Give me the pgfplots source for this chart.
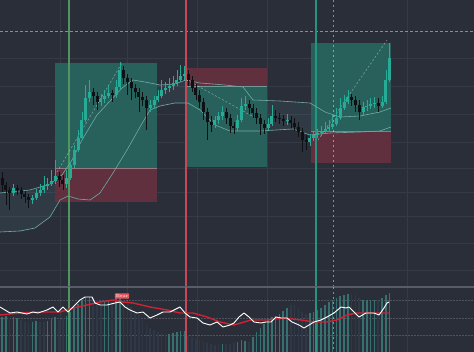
\documentclass[border=0pt]{standalone}
\usepackage{pgfplots}
\pgfplotsset{compat=1.18}
\usepackage{pgfplotstable}
\definecolor{bg}{RGB}{42,46,57}
\definecolor{gridc}{RGB}{54,58,70}
\definecolor{boxg}{RGB}{40,96,91}
\definecolor{boxr}{RGB}{96,48,63}
\definecolor{up}{RGB}{38,172,150}
\definecolor{dn}{RGB}{14,16,20}
\definecolor{band}{RGB}{110,170,165}
\definecolor{vgreen}{RGB}{80,150,95}
\definecolor{vred}{RGB}{200,70,85}
\definecolor{vteal}{RGB}{35,150,130}
\definecolor{histb}{RGB}{55,112,112}
\definecolor{histd}{RGB}{46,56,70}
\definecolor{sigred}{RGB}{205,35,50}
\definecolor{bearred}{RGB}{235,85,95}
\definecolor{sep}{RGB}{88,92,104}

\pgfplotstableread{
x o h l c
2 178 172 192 185
5.8 185 182 205 190
9.6 190 187 210 193
13.4 193 184 196 188
17.2 188 185 195 190
21 190 187 199 194
24.8 194 191 203 197
28.6 197 194 208 200
32.4 200 195 204 198
36.2 198 189 200 193
40 193 184 196 190
43.8 190 176 193 186
47.6 186 178 190 184
51.4 184 170 186 181
55.2 181 160 184 176
59 176 172 187 180
62.8 180 175 190 184
66.6 184 170 188 178
70.4 178 162 180 165
74.2 165 145 168 150
78 150 130 152 138
81.8 138 112 140 120
85.6 120 85 122 98
89.4 98 80 102 92
93.2 92 88 105 96
97 96 92 110 102
100.8 102 94 106 99
104.6 99 90 103 96
108.4 96 86 98 93
112.2 93 90 102 95
116 95 80 98 87
119.8 87 62 90 70
123.6 70 66 84 78
127.4 78 74 95 82
131.2 82 78 100 88
135 88 84 98 92
138.8 92 88 112 97
142.6 97 92 106 100
146.4 100 96 130 108
150.2 108 100 112 105
154 105 96 108 100
157.8 100 90 102 96
161.6 96 80 98 90
165.4 90 82 94 88
169.2 88 78 92 86
173 86 76 90 83
176.8 83 70 86 80
180.6 80 65 82 76
184.4 76 66 80 74
188.2 74 70 86 80
192 80 76 92 88
195.8 88 84 100 95
199.6 95 90 108 102
203.4 102 98 120 112
207.2 112 108 140 122
211 122 116 132 125
214.8 125 116 128 120
218.6 120 112 124 116
222.4 116 106 120 112
226.2 112 108 124 118
230 118 114 133 126
233.8 126 122 134 128
237.6 128 115 131 120
241.4 120 98 122 106
245.2 106 96 110 104
249 104 100 114 108
252.8 108 104 118 113
256.6 113 108 124 118
260.4 118 114 135 124
264.2 124 120 134 128
268 128 118 130 124
271.8 124 105 126 116
275.6 116 110 122 118
279.4 118 113 124 119
283.2 119 115 126 121
287 121 114 125 120
290.8 120 116 128 123
294.6 123 118 131 127
298.4 127 122 137 132
302.2 132 128 152 140
306 140 135 150 142
309.8 142 134 146 138
313.6 138 131 141 135
317.4 135 129 138 133
321.2 133 126 136 131
325 131 122 134 129
328.8 129 120 132 127
332.6 127 115 129 124
336.4 124 108 126 118
340.2 118 98 120 108
344 108 95 110 102
347.8 102 90 104 97
351.6 97 94 106 100
355.4 100 96 112 105
359.2 105 100 120 112
363 112 102 115 107
366.8 107 100 111 106
370.6 106 98 109 104
374.4 104 97 108 103
378.2 103 98 112 106
382 106 96 108 102
385.8 102 70 104 80
389.6 80 43 82 58
}\candles

\pgfplotstableread{
x t b
2 317 1
5.8 316 1
9.6 318 0
13.4 317 1
17.2 318 1
21 320 0
24.8 322 0
28.6 323 0
32.4 322 1
36.2 321 1
40 322 0
43.8 322 0
47.6 321 1
51.4 319 1
55.2 317 1
59 320 0
62.8 318 0
66.6 316 1
70.4 312 1
74.2 308 1
78 304 1
81.8 300 1
85.6 297 1
89.4 297 1
93.2 298 0
97 300 0
100.8 302 0
104.6 302 1
108.4 300 1
112.2 301 0
116 298 1
119.8 296 1
123.6 300 0
127.4 303 0
131.2 307 0
135 311 0
138.8 315 0
142.6 320 0
146.4 325 0
150.2 328 0
154 330 0
157.8 332 0
161.6 333 0
165.4 334 0
169.2 334 1
173 333 1
176.8 332 1
180.6 331 1
184.4 331 1
188.2 335 0
192 337 0
195.8 339 0
199.6 340 0
203.4 342 0
207.2 343 0
211 344 0
214.8 345 0
218.6 345 0
222.4 344 1
226.2 344 0
230 344 0
233.8 343 0
237.6 342 1
241.4 340 1
245.2 341 1
249 342 0
252.8 337 1
256.6 332 1
260.4 328 1
264.2 324 1
268 320 1
271.8 317 1
275.6 316 1
279.4 314 1
283.2 311 1
287 308 1
290.8 305 0
294.6 305 0
298.4 308 0
302.2 312 0
306 314 0
309.8 313 1
313.6 312 1
317.4 310 1
321.2 308 1
325 305 1
328.8 302 1
332.6 300 1
336.4 298 1
340.2 296 1
344 295 1
347.8 294 1
351.6 294 0
355.4 295 0
359.2 298 0
363 300 1
366.8 300 1
370.6 300 1
374.4 300 1
378.2 301 0
382 298 1
385.8 295 1
389.6 293 1
}\hist

\begin{document}
\begin{tikzpicture}
\begin{axis}[
  scale only axis, width=474pt, height=352pt,
  xmin=0, xmax=474, ymin=0, ymax=352, y dir=reverse,
  xtick=\empty, ytick=\empty,
  axis line style={draw=none},
  axis background/.style={fill=bg},
  clip=true,
  seg/.style={draw=none, mark=none, error bars/y dir=both, error bars/y explicit, error bars/error mark=none},
]
% grid
\pgfplotsinvokeforeach{58,86,114,142,168,192,216,243,270}{
  \addplot[gridc, line width=0.6pt] coordinates {(0,#1)(474,#1)};
}
\pgfplotsinvokeforeach{60,127,197,267,407}{
  \addplot[gridc, line width=0.6pt] coordinates {(#1,0)(#1,352)};
}
% band fill
\addplot[fill=band, fill opacity=0.10, draw=none] coordinates {
(0,193)(30,190)(50,184)(62,175)(72,160)(82,140)(97,115)(110,101)(122,88)(133,80)(145,82)(160,85)(175,84)(186,80)(200,83)(225,85)(243,87)(253,100)(280,101)(310,103)(325,112)(340,117)(360,116)(380,112)(391,108)
(391,127)(380,131)(360,132)(330,133)(310,135)(293,129)(260,131)(230,131)(215,125)(200,110)(188,103)(175,103)(160,106)(150,110)(140,127)(127,150)(113,173)(100,193)(90,200)(78,199)(68,196)(60,200)(50,217)(35,228)(20,231)(0,232)} -- cycle;
% boxes
\addplot[fill=boxg, draw=none] coordinates {(55,63)(157,63)(157,168)(55,168)} -- cycle;
\addplot[fill=boxr, draw=none] coordinates {(55,168)(157,168)(157,202)(55,202)} -- cycle;
\addplot[fill=boxr, draw=none] coordinates {(186,68)(267,68)(267,86)(186,86)} -- cycle;
\addplot[fill=boxg, draw=none] coordinates {(186,86)(267,86)(267,167)(186,167)} -- cycle;
\addplot[fill=boxg, draw=none] coordinates {(311,43)(391,43)(391,131)(311,131)} -- cycle;
\addplot[fill=boxr, draw=none] coordinates {(311,131)(391,131)(391,163)(311,163)} -- cycle;
\addplot[white, opacity=0.35, line width=0.6pt] coordinates {(55,168)(157,168)};
\addplot[white, opacity=0.35, line width=0.6pt] coordinates {(186,86)(267,86)};
\addplot[white, opacity=0.35, line width=0.6pt] coordinates {(311,131)(391,131)};
% crosshair
\addplot[white, opacity=0.45, line width=0.6pt, dash pattern=on 2.5pt off 2.5pt] coordinates {(0,31)(474,31)};
\addplot[white, opacity=0.45, line width=0.6pt, dash pattern=on 2.5pt off 2.5pt] coordinates {(333,0)(333,352)};
% vertical signal lines
\addplot[vgreen, line width=1.1pt] coordinates {(69,0)(69,352)};
\addplot[vred, line width=1.1pt] coordinates {(186,0)(186,352)};
\addplot[vteal, line width=1.1pt] coordinates {(316,0)(316,352)};
% band lines
\addplot[band, line width=0.6pt] coordinates {
(0,193)(30,190)(50,184)(62,175)(72,160)(82,140)(97,115)(110,101)(122,88)(133,80)(145,82)(160,85)(175,84)(186,80)(200,83)(225,85)(243,87)(253,100)(280,101)(310,103)(325,112)(340,117)(360,116)(380,112)(391,108)};
\addplot[band, line width=0.6pt] coordinates {
(0,232)(20,231)(35,228)(50,217)(60,200)(68,196)(78,199)(90,200)(100,193)(113,173)(127,150)(140,127)(150,110)(160,106)(175,103)(188,103)(200,110)(215,125)(230,131)(260,131)(293,129)(310,135)(330,133)(360,132)(380,131)(391,127)};
% dashed target lines
\addplot[white, opacity=0.4, line width=0.6pt, dash pattern=on 2pt off 2pt] coordinates {(57,172)(122,63)};
\addplot[white, opacity=0.4, line width=0.6pt, dash pattern=on 2pt off 2pt] coordinates {(187,80)(252,116)};
\addplot[white, opacity=0.4, line width=0.6pt, dash pattern=on 2pt off 2pt] coordinates {(318,140)(387,40)};
% candles: wicks
\addplot[seg, restrict expr to domain={\thisrow{o}-\thisrow{c}}{0:1000}, error bars/error bar style={draw=up, line width=0.6pt}]
  table[x=x, y expr={(\thisrow{h}+\thisrow{l})/2}, y error expr={(\thisrow{l}-\thisrow{h})/2}] {\candles};
\addplot[seg, restrict expr to domain={\thisrow{o}-\thisrow{c}}{-1000:-0.001}, error bars/error bar style={draw=dn, line width=0.6pt}]
  table[x=x, y expr={(\thisrow{h}+\thisrow{l})/2}, y error expr={(\thisrow{l}-\thisrow{h})/2}] {\candles};
% candles: bodies
\addplot[seg, restrict expr to domain={\thisrow{o}-\thisrow{c}}{0:1000}, error bars/error bar style={draw=up, line width=3pt}]
  table[x=x, y expr={(\thisrow{o}+\thisrow{c})/2}, y error expr={max(abs(\thisrow{o}-\thisrow{c})/2,0.8)}] {\candles};
\addplot[seg, restrict expr to domain={\thisrow{o}-\thisrow{c}}{-1000:-0.001}, error bars/error bar style={draw=dn, line width=3pt}]
  table[x=x, y expr={(\thisrow{o}+\thisrow{c})/2}, y error expr={max(abs(\thisrow{o}-\thisrow{c})/2,0.8)}] {\candles};
% lower pane
\addplot[fill=bg, draw=none] coordinates {(0,287)(474,287)(474,352)(0,352)} -- cycle;
\pgfplotsinvokeforeach{60,127,197,267,407}{
  \addplot[gridc, line width=0.6pt] coordinates {(#1,287)(#1,352)};
}
\pgfplotsinvokeforeach{300,318,335}{
  \addplot[white, opacity=0.18, line width=0.5pt, dash pattern=on 1.5pt off 1.5pt] coordinates {(0,#1)(474,#1)};
}
\addplot[sep, line width=1.2pt] coordinates {(0,287)(474,287)};
% histogram
\addplot[seg, restrict expr to domain={\thisrow{b}}{0.5:2}, error bars/error bar style={draw=histb, line width=1.7pt}]
  table[x=x, y expr={(352+\thisrow{t})/2}, y error expr={(352-\thisrow{t})/2}] {\hist};
\addplot[seg, restrict expr to domain={\thisrow{b}}{-1:0.5}, error bars/error bar style={draw=histd, line width=1.7pt}]
  table[x=x, y expr={(352+\thisrow{t})/2}, y error expr={(352-\thisrow{t})/2}] {\hist};
\addplot[vgreen, line width=1.1pt] coordinates {(69,287)(69,352)};
\addplot[vred, line width=1.1pt] coordinates {(186,287)(186,352)};
\addplot[vteal, line width=1.1pt] coordinates {(316,287)(316,352)};
\addplot[white, opacity=0.45, line width=0.6pt, dash pattern=on 2.5pt off 2.5pt] coordinates {(333,287)(333,352)};
% signal (red) line
\addplot[sigred, line width=1.4pt, line join=round] coordinates {
(0,315)(20,313)(40,312)(60,312)(73,308)(87,305)(100,302)(113,300)(123,302)(133,303)(150,307)(167,310)(180,313)(193,313)(207,317)(220,322)(234,325)(251,320)(267,320)(284,318)(301,320)(314,322)(327,322)(337,320)(347,315)(357,313)(374,313)(389,313)};
% oscillator (white) line
\addplot[white, line width=0.9pt, line join=round] coordinates {
(0,307)(5,310)(10,313)(17,312)(27,314)(33,312)(38,313)(47,310)(53,307)(58,312)(63,307)(68,312)(73,307)(80,300)(85,297)(92,297)(95,303)(100,305)(107,305)(115,303)(120,302)(125,307)(130,310)(137,313)(143,312)(150,318)(157,315)(163,312)(170,312)(180,307)(185,313)(190,317)(197,318)(203,323)(210,325)(217,322)(223,327)(230,325)(234,323)(239,317)(244,313)(249,317)(254,322)(261,323)(266,322)(271,322)(276,317)(281,318)(287,318)(292,322)(299,325)(304,328)(309,325)(314,322)(321,320)(327,317)(334,313)(341,307)(346,308)(349,307)(354,312)(359,317)(366,313)(374,313)(379,315)(384,308)(387,303)(389,302)};
\node[fill=bearred, text=white, font=\fontsize{4.5}{5}\selectfont, inner sep=1pt, rounded corners=0.6pt] at (axis cs:122,296) {Bear};
\end{axis}
\end{tikzpicture}
\end{document}
